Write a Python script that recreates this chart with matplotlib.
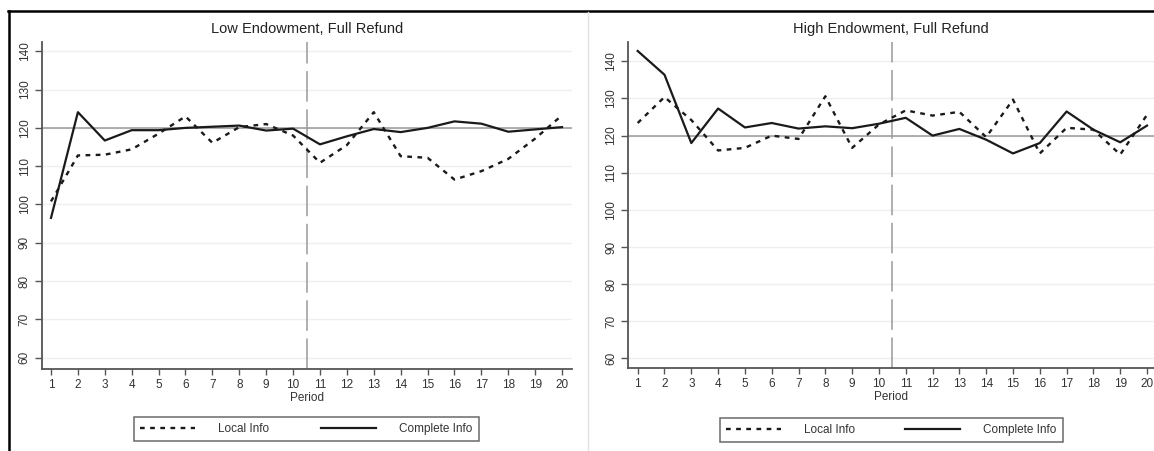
import matplotlib
matplotlib.use("Agg")
import matplotlib.pyplot as plt
from matplotlib.lines import Line2D

plt.rcParams['font.family'] = ['Liberation Sans', 'DejaVu Sans']

periods = list(range(1, 21))
panel_titles = ["Low Endowment, Full Refund", "High Endowment, Full Refund"]
series_labels = ["Local Info", "Complete Info"]

low_local = [100.8, 112.8, 113.0, 114.4, 118.5, 123.0, 116.1, 120.2, 121.0, 118.0,
             110.9, 115.5, 124.1, 112.6, 112.2, 106.5, 108.7, 111.9, 117.2, 123.3]
low_complete = [96.5, 124.1, 116.7, 119.4, 119.4, 120.0, 120.3, 120.6, 119.3, 119.8,
                115.7, 117.8, 119.7, 118.9, 120.0, 121.7, 121.1, 119.0, 119.6, 120.2]
high_local = [123.4, 130.4, 124.2, 116.0, 116.7, 120.0, 119.1, 130.6, 116.7, 123.0,
              126.8, 125.4, 126.4, 119.6, 129.7, 115.2, 122.1, 121.6, 114.9, 125.6]
high_complete = [142.8, 136.4, 118.0, 127.3, 122.2, 123.4, 121.9, 122.5, 122.0, 123.2,
                 124.8, 120.0, 121.8, 118.9, 115.2, 118.0, 126.5, 121.6, 118.2, 122.7]
y_ticks = [60, 70, 80, 90, 100, 110, 120, 130, 140]
reference_level = 120
split_period = 10.5

W, H = 1154, 451
fig = plt.figure(figsize=(W / 100, H / 100), dpi=100)

def fx(px):
    return px / W

def fy(py):
    return 1 - py / H

panels = [
    dict(rect=(fx(41.7), fy(369), fx(572 - 41.7), fy(41.7) - fy(369)),
         xlim=(0.654, 20.37), ylim=(57.05, 142.5),
         local=low_local, complete=low_complete, title=panel_titles[0],
         legend_box=(134, 413, 479, 445)),
    dict(rect=(fx(628.3), fy(368), fx(1154 - 628.3), fy(41.7) - fy(368)),
         xlim=(0.65, 20.26), ylim=(57.4, 145.3),
         local=high_local, complete=high_complete, title=panel_titles[1],
         legend_box=(720, 415, 1063, 445)),
]

dash_style = (0, (2.0, 2.3))
for p in panels:
    ax = fig.add_axes(p['rect'])
    ax.set_xlim(*p['xlim'])
    ax.set_ylim(*p['ylim'])
    for yv in y_ticks:
        ax.axhline(yv, color='#efefef', lw=1.0, zorder=0)
    ax.axhline(reference_level, color='#9a9a9a', lw=1.1, zorder=1)
    ax.axvline(split_period, color='#9a9a9a', lw=1.1, linestyle=(0, (20, 5)), zorder=1)
    l1, = ax.plot(periods, p['local'], color='#1a1a1a', lw=1.7, linestyle=dash_style,
                  label=series_labels[0], zorder=3)
    l2, = ax.plot(periods, p['complete'], color='#1a1a1a', lw=1.6, linestyle='-',
                  label=series_labels[1], zorder=3)
    ax.set_xticks(periods)
    ax.set_yticks(y_ticks)
    ax.set_yticklabels([str(v) for v in y_ticks], rotation=90, va='center')
    for s in ['top', 'right']:
        ax.spines[s].set_visible(False)
    for s in ['left', 'bottom']:
        ax.spines[s].set_color('#555555')
        ax.spines[s].set_linewidth(1.3)
    ax.tick_params(axis='both', colors='#555555', labelcolor='#333333',
                   labelsize=8.5, width=1.0)
    ax.tick_params(axis='y', length=5, pad=3)
    ax.tick_params(axis='x', length=4, pad=3)
    ax.set_xlabel("Period", fontsize=8.5, color='#333333', labelpad=1)
    ax.set_title(p['title'], fontsize=10.5, color='#222222', pad=6)
    ax.patch.set_alpha(0)

    x0, y0, x1, y1 = p['legend_box']
    leg = fig.legend([l1, l2], series_labels, loc='center',
                     bbox_to_anchor=(fx(x0), fy(y1), fx(x1 - x0), fy(y0) - fy(y1)),
                     mode='expand', ncol=2, fontsize=8.5, frameon=True,
                     fancybox=False, handlelength=4.6, handletextpad=2.0,
                     columnspacing=3.5, borderpad=0.55, borderaxespad=0)
    leg.get_frame().set_edgecolor('#444444')
    leg.get_frame().set_linewidth(1.1)
    for t in leg.get_texts():
        t.set_color('#333333')

# frame decorations
fig.add_artist(Line2D([fx(8), 1], [fy(11), fy(11)], transform=fig.transFigure,
                      color='black', lw=1.8))
fig.add_artist(Line2D([fx(9), fx(9)], [0, fy(11)], transform=fig.transFigure,
                      color='black', lw=1.8))
fig.add_artist(Line2D([fx(588), fx(588)], [0, fy(12)], transform=fig.transFigure,
                      color='#e2e2e2', lw=1.0))

fig.savefig("out.png", dpi=100)
